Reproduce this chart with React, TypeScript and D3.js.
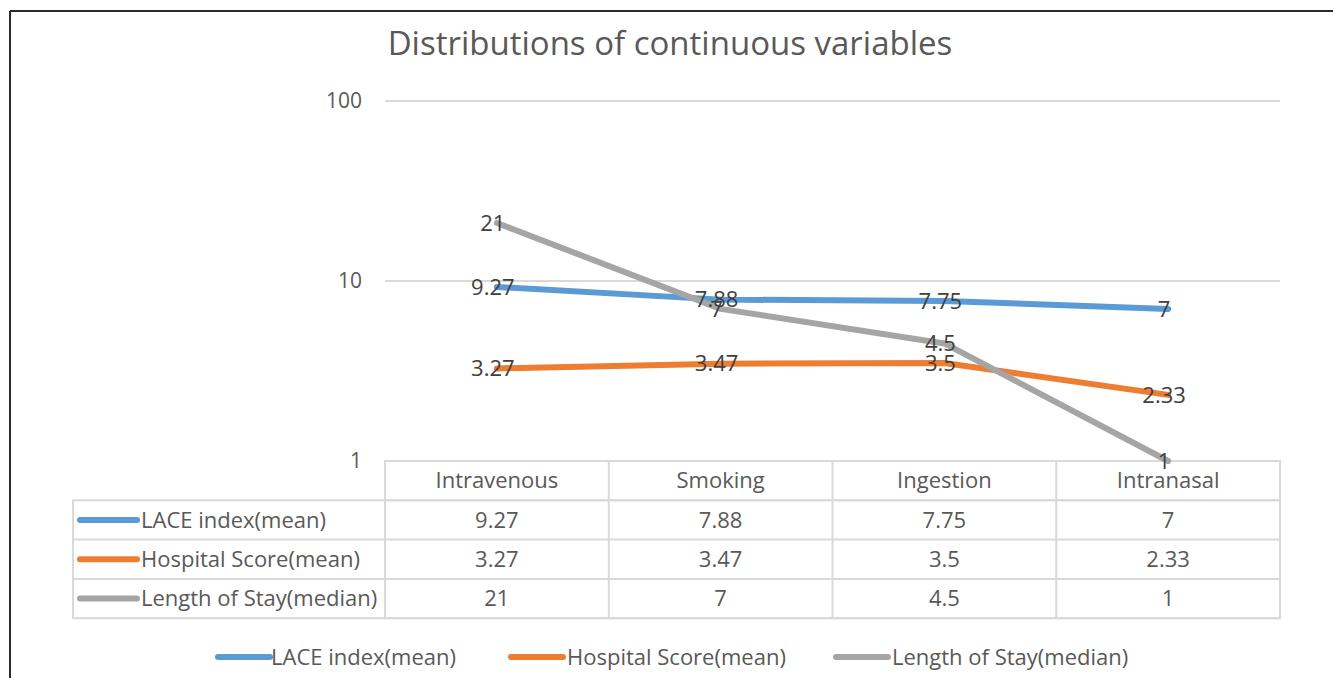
import React from "react";
import * as d3 from "d3";

const categories = ["Intravenous", "Smoking", "Ingestion", "Intranasal"];
const laceIndex = [9.27, 7.88, 7.75, 7];
const hospitalScore = [3.27, 3.47, 3.5, 2.33];
const lengthOfStay = [21, 7, 4.5, 1];
const seriesNames = ["LACE index(mean)", "Hospital Score(mean)", "Length of Stay(median)"];
const seriesColors = ["#5B9BD5", "#ED7D31", "#A5A5A5"];
const yTicks = [1, 10, 100];
const title = "Distributions of continuous variables";

const W = 1333;
const H = 678;
const FONT = "'Open Sans', Lato, sans-serif";
const FS = 22;

export default function App() {
  const series = [laceIndex, hospitalScore, lengthOfStay];
  const x = d3.scaleBand<string>().domain(categories).range([385, 1280]);
  const y = d3.scaleLog().domain([1, 100]).range([461, 101]);
  const cx = (c: string) => (x(c) ?? 0) + x.bandwidth() / 2;
  const line = d3
    .line<number>()
    .x((_, i) => cx(categories[i]))
    .y((d) => y(d));

  const tableTop = 461;
  const rowH = 39.3;
  const labelLeft = 73;
  const gridColor = "#D9D9D9";
  const textColor = "#404040";

  return (
    <svg width={W} height={H} style={{ position: "absolute", left: 0, top: 0, background: "#fff" }}>
      <rect x={0} y={0} width={W} height={H} fill="#fff" />
      {/* outer frame */}
      <line x1={10} y1={11} x2={W} y2={11} stroke="#2b2b2b" strokeWidth={2} />
      <line x1={10} y1={11} x2={10} y2={H} stroke="#2b2b2b" strokeWidth={2} />

      <text x={670} y={55} textAnchor="middle" fontFamily={FONT} fontSize={33} fill="#595959">
        {title}
      </text>

      {/* gridlines */}
      {yTicks.slice(1).map((t) => (
        <line key={t} x1={385} x2={1280} y1={y(t)} y2={y(t)} stroke={gridColor} strokeWidth={2} />
      ))}
      {/* y tick labels */}
      {yTicks.map((t) => (
        <text key={t} x={362} y={y(t)} dy="0.35em" textAnchor="end" fontFamily={FONT} fontSize={21} fill="#595959">
          {t}
        </text>
      ))}

      {/* table */}
      <g stroke={gridColor} strokeWidth={2} fill="none">
        <rect x={385} y={tableTop} width={895} height={rowH * 4} />
        <rect x={labelLeft} y={tableTop + rowH} width={1280 - labelLeft} height={rowH * 3} />
        {[1, 2, 3].map((r) => (
          <line key={r} x1={r === 1 ? 385 : labelLeft} x2={1280} y1={tableTop + rowH * r} y2={tableTop + rowH * r} />
        ))}
        {categories.map((c) => (
          <line key={c} x1={x(c)} x2={x(c)} y1={tableTop} y2={tableTop + rowH * 4} />
        ))}
      </g>
      {categories.map((c) => (
        <text key={c} x={cx(c)} y={tableTop + rowH / 2} dy="0.35em" textAnchor="middle" fontFamily={FONT} fontSize={FS} fill="#595959">
          {c}
        </text>
      ))}
      {series.map((s, si) => (
        <g key={si}>
          <line x1={80} x2={137} y1={tableTop + rowH * (si + 1.5)} y2={tableTop + rowH * (si + 1.5)} stroke={seriesColors[si]} strokeWidth={6} strokeLinecap="round" />
          <text x={141} y={tableTop + rowH * (si + 1.5)} dy="0.35em" fontFamily={FONT} fontSize={FS} fill="#595959">
            {seriesNames[si]}
          </text>
          {s.map((v, i) => (
            <text key={i} x={cx(categories[i])} y={tableTop + rowH * (si + 1.5)} dy="0.35em" textAnchor="middle" fontFamily={FONT} fontSize={FS} fill="#595959">
              {v}
            </text>
          ))}
        </g>
      ))}

      {/* lines */}
      {series.map((s, si) => (
        <path key={si} d={line(s) ?? ""} fill="none" stroke={seriesColors[si]} strokeWidth={6} strokeLinecap="round" strokeLinejoin="round" />
      ))}
      {/* data labels */}
      {series.map((s, si) =>
        s.map((v, i) => (
          <text key={si + "-" + i} x={cx(categories[i]) - 4} y={y(v)} dy="0.35em" textAnchor="middle" fontFamily={FONT} fontSize={FS} fill={textColor}>
            {v}
          </text>
        ))
      )}

      {/* legend */}
      {[
        { x: 218, tx: 271 },
        { x: 511, tx: 567 },
        { x: 836, tx: 892 },
      ].map((p, i) => (
        <g key={i}>
          <line x1={p.x} x2={p.x + 52} y1={657} y2={657} stroke={seriesColors[i]} strokeWidth={6} strokeLinecap="round" />
          <text x={p.tx} y={657} dy="0.35em" fontFamily={FONT} fontSize={FS} fill="#595959">
            {seriesNames[i]}
          </text>
        </g>
      ))}
    </svg>
  );
}
